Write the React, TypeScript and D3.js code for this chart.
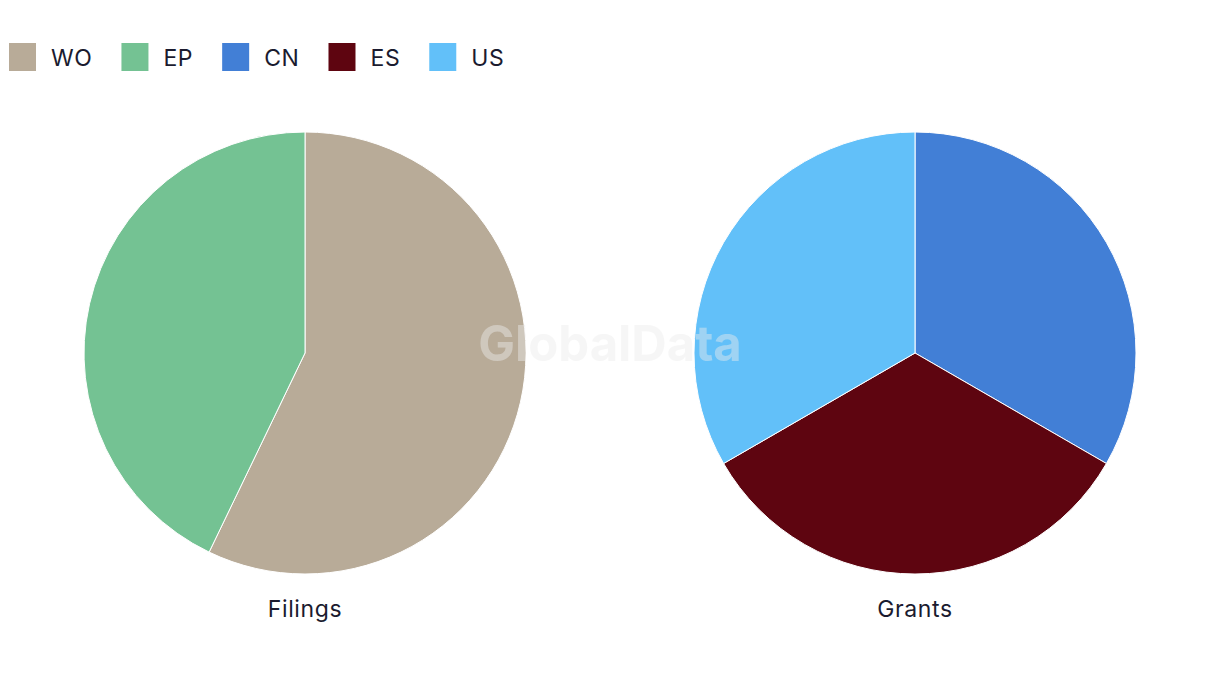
import React from "react";
import * as d3 from "d3";

const W = 1220;
const H = 686;

const legendLabels = ["WO", "EP", "CN", "ES", "US"];
const legendColors = ["#b8ab98", "#74c293", "#427fd6", "#5e0510", "#62c0f9"];

const filingsCats = ["WO", "EP"];
const filingsValues = [4, 3];
const grantsCats = ["CN", "ES", "US"];
const grantsValues = [1, 1, 1];

const chartTitles = ["Filings", "Grants"];

const FONT = "Inter, 'Noto Sans', sans-serif";
const TEXT_COLOR = "#1b1b2f";
const FS = 23;
const LS = 0.6;

function measure(text: string, font: string): number {
  if (typeof document === "undefined") return text.length * 12;
  const c = document.createElement("canvas");
  const ctx = c.getContext("2d");
  if (!ctx) return text.length * 12;
  ctx.font = font;
  return ctx.measureText(text).width + LS * text.length;
}

const color = d3.scaleOrdinal<string, string>().domain(legendLabels).range(legendColors);

function Pie({ cats, values, cx, cy, r, title }: { cats: string[]; values: number[]; cx: number; cy: number; r: number; title: string }) {
  const data = cats.map((c, i) => ({ c, v: values[i] }));
  const arcs = d3.pie<{ c: string; v: number }>().value((d) => d.v).sort(null)(data);
  const arc = d3.arc<d3.PieArcDatum<{ c: string; v: number }>>().innerRadius(0).outerRadius(r);
  return (
    <g>
      <g transform={`translate(${cx},${cy})`}>
        {arcs.map((a) => (
          <path key={a.data.c} d={arc(a) || ""} fill={color(a.data.c)} stroke="#fff" strokeWidth={1} />
        ))}
      </g>
      <text x={cx} y={cy + r + 43} textAnchor="middle" fontFamily={FONT} fontSize={FS} letterSpacing={LS} fill={TEXT_COLOR}>
        {title}
      </text>
    </g>
  );
}

export default function App() {
  const legendFont = `${FS}px ${FONT}`;
  let x = 9;
  const items = legendLabels.map((l) => {
    const item = { l, x };
    x += 42 + measure(l, legendFont) + 29;
    return item;
  });
  return (
    <svg width={W} height={H} style={{ position: "absolute", left: 0, top: 0, background: "#fff" }}>
      <g>
        {items.map((it) => (
          <g key={it.l}>
            <rect x={it.x} y={43} width={27} height={28} fill={color(it.l)} />
            <text x={it.x + 42} y={65.5} fontFamily={FONT} fontSize={FS} letterSpacing={LS} fill={TEXT_COLOR}>
              {it.l}
            </text>
          </g>
        ))}
      </g>
      <Pie cats={filingsCats} values={filingsValues} cx={305} cy={353} r={221} title={chartTitles[0]} />
      <Pie cats={grantsCats} values={grantsValues} cx={915} cy={353} r={221} title={chartTitles[1]} />
      <text x={610} y={361} textAnchor="middle" fontFamily={FONT} fontWeight={700} fontSize={49} fill="#ebebeb" fillOpacity={0.45}>
        GlobalData
      </text>
    </svg>
  );
}
